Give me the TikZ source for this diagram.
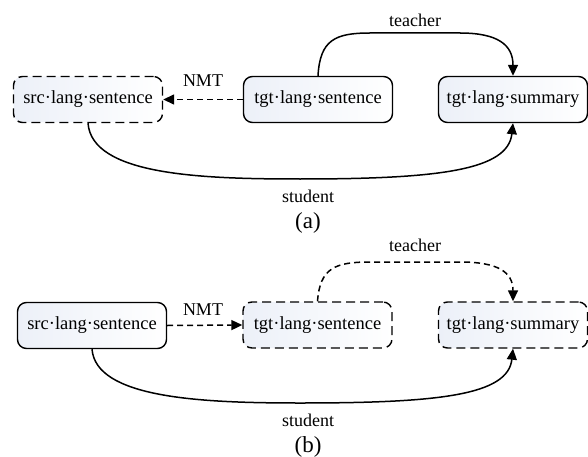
\documentclass[tikz,border=0pt]{standalone}
\usepackage{fontspec}
\setmainfont{Liberation Serif}
\usetikzlibrary{arrows.meta}
\begin{document}
\begin{tikzpicture}[x=1pt,y=-1pt,
  box/.style={draw=black, line width=1.4pt, rounded corners=9pt,
    left color={rgb,255:red,236;green,240;blue,248}, right color=white,
    minimum width=149pt, minimum height=46pt, inner sep=0pt,
    font=\fontsize{18.5}{20}\selectfont},
  dbox/.style={box, dash pattern=on 9pt off 5pt},
  conn/.style={line width=1.5pt, -{Triangle[length=11pt,width=10pt]}},
  dconn/.style={conn, dash pattern=on 6pt off 4pt},
  lbl/.style={font=\fontsize{18}{20}\selectfont, inner sep=0pt},
  captxt/.style={font=\fontsize{23}{25}\selectfont, inner sep=0pt}]
\useasboundingbox (0,0) rectangle (588,457);
% (a)
\node[dbox] (srca) at (88,99.5) {src·lang·sentence};
\node[box]  (tsa)  at (318,99.5) {tgt·lang·sentence};
\node[box]  (sma)  at (513,99.5) {tgt·lang·summary};
\draw[dconn] (tsa.west) -- (srca.east);
\node[lbl] (nmta) at (203,81) {NMT};
\draw[conn] (tsa.north) .. controls (320,40) and (335,33) .. (370,33) -- (460,33)
  .. controls (498,33) and (513,45) .. (sma.north);
\node[lbl] (teaa) at (415,20) {teacher};
\draw[conn] (srca.south) .. controls (92,175) and (200,179) .. (300,179)
  .. controls (440,179) and (508,170) .. (sma.south);
\node[lbl] (stua) at (308,196) {student};
\node[captxt] (capa) at (308,223) {(a)};
% (b)
\node[box]  (srcb) at (92,325.5) {src·lang·sentence};
\node[dbox] (tsb)  at (317.5,325) {tgt·lang·sentence};
\node[dbox] (smb)  at (513,325) {tgt·lang·summary};
\draw[dconn] (srcb.east) -- (tsb.west);
\node[lbl] (nmtb) at (203,310) {NMT};
\draw[dconn] (tsb.north) .. controls (320,268) and (335,262) .. (370,262) -- (460,262)
  .. controls (498,262) and (513,272) .. (smb.north);
\node[lbl] (teab) at (415,245) {teacher};
\draw[conn] (srcb.south) .. controls (96,398) and (200,403) .. (300,403)
  .. controls (440,403) and (508,395) .. (smb.south);
\node[lbl] (stub) at (308,420) {student};
\node[captxt] (capb) at (308,447) {(b)};
\end{tikzpicture}
\end{document}
